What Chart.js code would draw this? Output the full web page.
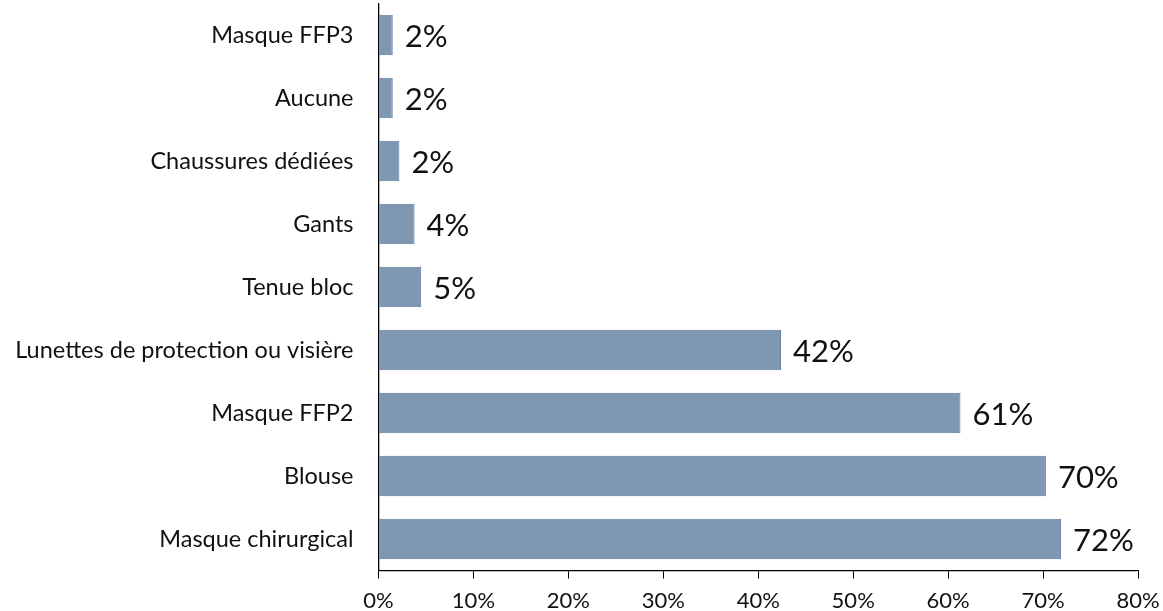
<!DOCTYPE html>
<html><head><meta charset="utf-8">
<script src="https://cdn.jsdelivr.net/npm/chart.js@4/dist/chart.umd.min.js"></script>
<style>html,body{margin:0;padding:0;background:#fff}#wrap{width:1163px;height:611px}</style>
</head><body><div id="wrap"><canvas id="c" width="1163" height="611"></canvas></div>
<script>
const categories = ["Masque FFP3","Aucune","Chaussures dédiées","Gants","Tenue bloc","Lunettes de protection ou visière","Masque FFP2","Blouse","Masque chirurgical"];
const values = [1.5, 1.5, 2.2, 3.8, 4.5, 42.4, 61.3, 70.3, 71.9];
const valueLabels = ["2%","2%","2%","4%","5%","42%","61%","70%","72%"];
const xTicks = [0,10,20,30,40,50,60,70,80];

const FONT = 'Lato, "Liberation Sans", sans-serif';

const dataLabelPlugin = {
  id: 'dataLabels',
  afterDatasetsDraw(chart) {
    const ctx = chart.ctx;
    const meta = chart.getDatasetMeta(0);
    ctx.save();
    ctx.font = '31px ' + FONT;
    ctx.fillStyle = '#111';
    ctx.textAlign = 'left';
    ctx.textBaseline = 'middle';
    meta.data.forEach((bar, i) => {
      ctx.fillText(valueLabels[i], bar.x + 12, bar.y + 2);
    });
    ctx.restore();
  }
};

new Chart(document.getElementById('c'), {
  type: 'bar',
  data: {
    labels: categories,
    datasets: [{
      data: values,
      backgroundColor: '#8097b1',
      borderColor: '#5b7aa2',
      borderWidth: 1,
      categoryPercentage: 0.64,
      barPercentage: 1
    }]
  },
  options: {
    indexAxis: 'y',
    responsive: false,
    animation: false,
    layout: { padding: { top: 3.5, right: 25, left: 0, bottom: 0 } },
    plugins: { legend: { display: false }, tooltip: { enabled: false } },
    scales: {
      x: {
        min: 0, max: 80,
        afterBuildTicks(s) { s.ticks = xTicks.map(v => ({ value: v })); },
        afterFit(s) { s.height = 40.5; s.paddingLeft = 0; s.paddingRight = 0; },
        grid: { drawOnChartArea: false, tickLength: 8, color: '#000', tickColor: '#000' },
        border: { color: '#000', width: 1.3 },
        ticks: { padding: 9, color: '#111', font: { family: FONT, size: 22 },
          callback: v => v + '%' }
      },
      y: {
        afterFit(s) { s.width = 378.5; s.paddingTop = 0; s.paddingBottom = 0; },
        grid: { drawOnChartArea: false, drawTicks: false, tickLength: 0 },
        border: { color: '#000', width: 1.3 },
        ticks: { padding: 25, color: '#111', font: { family: FONT, size: 23.5 } }
      }
    }
  },
  plugins: [dataLabelPlugin]
});
</script></body></html>
